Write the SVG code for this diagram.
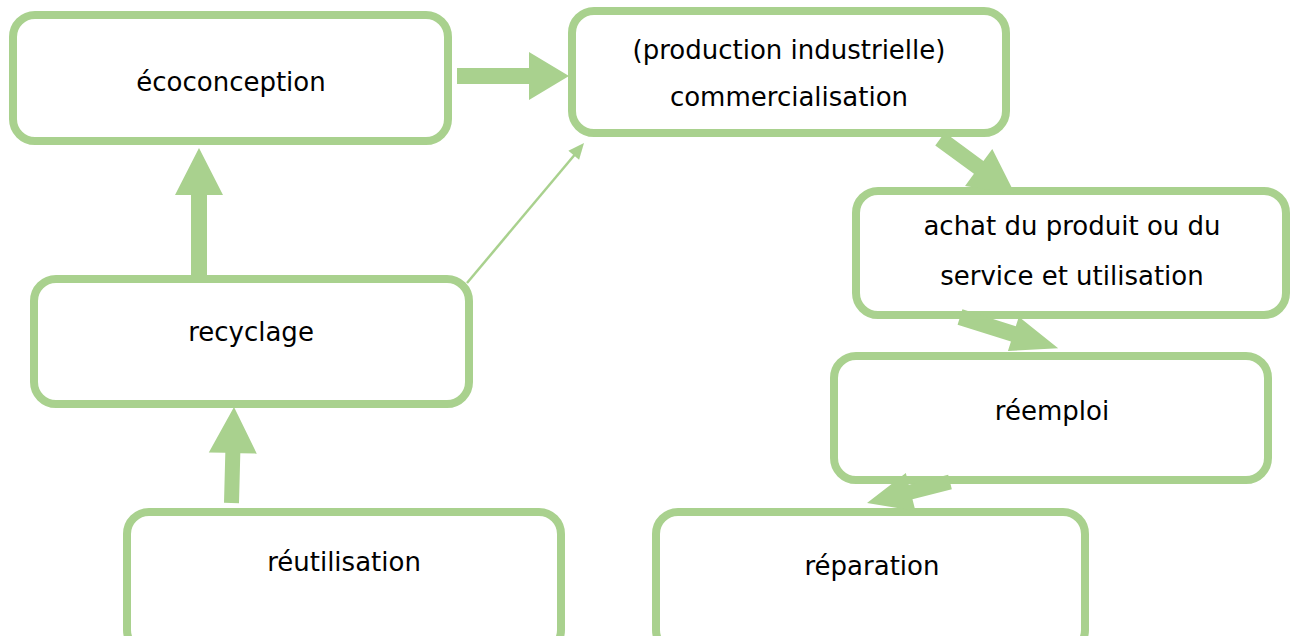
<svg xmlns="http://www.w3.org/2000/svg" width="1292" height="636" viewBox="0 0 1292 636">
  <style>
    .box { fill: #ffffff; stroke: #A9D18E; stroke-width: 8; }
    .arr { fill: #A9D18E; stroke: none; }
    .thin { stroke: #A9D18E; stroke-width: 2.5; fill: none; }
    text { font-family: "DejaVu Sans", "Liberation Sans", sans-serif; font-size: 26px; fill: #000000; text-anchor: middle; }
  </style>
  <rect width="1292" height="636" fill="#ffffff"/>

  <g id="ecoconception">
    <rect class="box" x="13" y="15" width="435" height="126" rx="22"/>
    <text x="231" y="91">écoconception</text>
  </g>
  <g id="production">
    <rect class="box" x="572" y="11" width="434" height="122" rx="22"/>
    <text x="789" y="59">(production industrielle)</text>
    <text x="789" y="106">commercialisation</text>
  </g>
  <g id="achat">
    <rect class="box" x="856" y="191" width="430" height="124" rx="22"/>
    <text x="1072" y="235">achat du produit ou du</text>
    <text x="1072" y="285">service et utilisation</text>
  </g>
  <g id="reemploi">
    <rect class="box" x="834" y="356" width="434" height="124" rx="22"/>
    <text x="1052" y="420">réemploi</text>
  </g>
  <g id="reparation">
    <rect class="box" x="656" y="512" width="429" height="140" rx="22"/>
    <text x="872" y="575">réparation</text>
  </g>
  <g id="recyclage">
    <rect class="box" x="34" y="279" width="435" height="125" rx="22"/>
    <text x="251" y="341">recyclage</text>
  </g>
  <g id="reutilisation">
    <rect class="box" x="127" y="512" width="434" height="140" rx="22"/>
    <text x="344" y="571">réutilisation</text>
  </g>

  <g id="connectors">
    <!-- ecoconception -> production -->
    <g transform="translate(457,76)">
      <polygon class="arr" points="0,-8 72,-8 72,-24 112,0 72,24 72,8 0,8"/>
    </g>
    <!-- recyclage -> ecoconception -->
    <g transform="translate(199,275) rotate(-90)">
      <polygon class="arr" points="0,-8 80,-8 80,-24 127,0 80,24 80,8 0,8"/>
    </g>
    <!-- reutilisation -> recyclage -->
    <g transform="translate(231.5,503) rotate(-88.5)">
      <polygon class="arr" points="0,-7.5 50,-7.5 50,-24 96,0 50,24 50,7.5 0,7.5"/>
    </g>
    <!-- recyclage -> production (thin) -->
    <line class="thin" x1="467" y1="283" x2="577" y2="152"/>
    <g transform="translate(584,143) rotate(-50.1)">
      <polygon class="arr" points="0,0 -16,-7 -16,7"/>
    </g>
    <!-- production -> achat -->
    <g transform="translate(940,139) rotate(36.3)">
      <polygon class="arr" points="0,-8 48,-8 48,-23 93,0 48,23 48,8 0,8"/>
    </g>
    <!-- achat -> reemploi -->
    <g transform="translate(960,317) rotate(17.6)">
      <polygon class="arr" points="0,-8 56,-8 56,-18 103,0 56,18 56,8 0,8"/>
    </g>
    <!-- reemploi -> reparation -->
    <g transform="translate(950,482) rotate(165.8)">
      <polygon class="arr" points="0,-7.5 40.6,-7.5 40.6,-19.6 85.6,0 40.6,19.6 40.6,7.5 0,7.5"/>
    </g>
  </g>
</svg>
